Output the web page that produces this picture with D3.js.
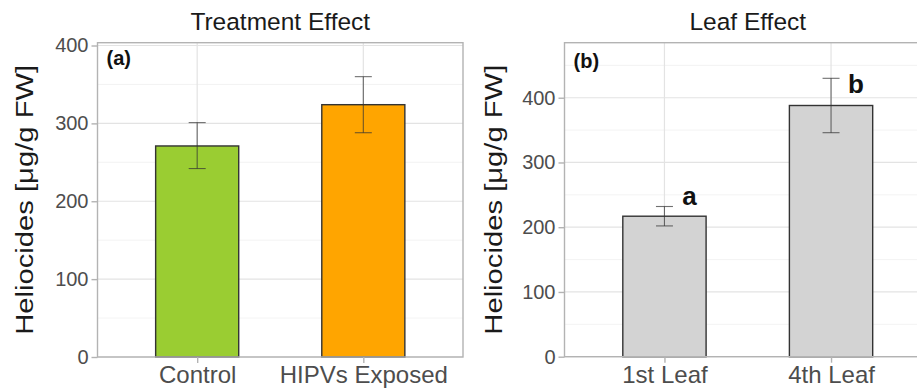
<!DOCTYPE html>
<html>
<head>
<meta charset="utf-8">
<script src="https://cdn.jsdelivr.net/npm/d3@7"></script>
<style>
  body { margin: 0; background: #fff; }
  svg { display: block; font-family: "Liberation Sans", Arial, sans-serif; }
</style>
</head>
<body>
<svg id="chart" width="917" height="389"></svg>
<script>
// panel (a) data
const treatCats = ["Control", "HIPVs Exposed"];
const treatMean = [271, 324];
const treatLow = [242, 288];
const treatHigh = [301, 360];
const treatColors = ["#9acd32", "#ffa500"];

// panel (b) data
const leafCats = ["1st Leaf", "4th Leaf"];
const leafMean = [217, 388];
const leafLow = [202, 346];
const leafHigh = [232, 430];
const leafLetters = ["a", "b"];
const leafLetterY = [248, 421];

const ticksA = [0, 100, 200, 300, 400];
const ticksB = [0, 100, 200, 300, 400];

const svg = d3.select("#chart");

function drawPanel(opt) {
  const g = svg.append("g");
  const { left, right, top, bottom } = opt;

  const x = d3.scalePoint()
    .domain(opt.cats)
    .range([left, right])
    .padding(0.6);
  const step = x.step();
  const barW = step * 0.5;

  const y = d3.scaleLinear()
    .domain(opt.yDomain)
    .range([bottom, top]);

  // minor grid
  const minor = d3.range(50, opt.yDomain[1], 100);
  g.selectAll(".minor").data(minor).enter().append("line")
    .attr("x1", left).attr("x2", right)
    .attr("y1", d => y(d)).attr("y2", d => y(d))
    .attr("stroke", "#f0f0f0").attr("stroke-width", 0.8);

  // major grid
  g.selectAll(".major").data(opt.ticks).enter().append("line")
    .attr("x1", left).attr("x2", right)
    .attr("y1", d => y(d)).attr("y2", d => y(d))
    .attr("stroke", "#e3e3e3").attr("stroke-width", 1.2);
  g.selectAll(".vgrid").data(opt.cats).enter().append("line")
    .attr("x1", d => x(d)).attr("x2", d => x(d))
    .attr("y1", top).attr("y2", bottom)
    .attr("stroke", "#e3e3e3").attr("stroke-width", 1.2);

  // bars
  g.selectAll(".bar").data(opt.cats).enter().append("rect")
    .attr("x", d => x(d) - barW / 2)
    .attr("y", (d, i) => y(opt.mean[i]))
    .attr("width", barW)
    .attr("height", (d, i) => y(0) - y(opt.mean[i]))
    .attr("fill", (d, i) => opt.colors[i])
    .attr("stroke", "#333")
    .attr("stroke-width", 1.4);

  // error bars
  const eb = g.selectAll(".err").data(opt.cats).enter().append("g")
    .attr("stroke", "#333").attr("stroke-opacity", 0.7).attr("stroke-width", 1.1);
  eb.append("line")
    .attr("x1", d => x(d)).attr("x2", d => x(d))
    .attr("y1", (d, i) => y(opt.low[i])).attr("y2", (d, i) => y(opt.high[i]));
  eb.append("line")
    .attr("x1", d => x(d) - 8.5).attr("x2", d => x(d) + 8.5)
    .attr("y1", (d, i) => y(opt.low[i])).attr("y2", (d, i) => y(opt.low[i]));
  eb.append("line")
    .attr("x1", d => x(d) - 8.5).attr("x2", d => x(d) + 8.5)
    .attr("y1", (d, i) => y(opt.high[i])).attr("y2", (d, i) => y(opt.high[i]));

  // letters
  if (opt.letters) {
    g.selectAll(".letter").data(opt.cats).enter().append("text")
      .attr("x", d => x(d) + step * 0.15)
      .attr("y", (d, i) => y(opt.letterY[i]))
      .attr("dy", "0.35em")
      .attr("text-anchor", "middle")
      .attr("font-weight", "bold")
      .attr("font-size", 26)
      .attr("fill", "#111")
      .text((d, i) => opt.letters[i]);
  }

  // border
  g.append("rect")
    .attr("x", left).attr("y", top)
    .attr("width", right - left).attr("height", bottom - top)
    .attr("fill", "none").attr("stroke", "#b3b3b3").attr("stroke-width", 1.4);

  // y axis
  const ya = g.append("g")
    .attr("transform", `translate(${left},0)`)
    .call(d3.axisLeft(y).tickValues(opt.ticks).tickSize(6).tickPadding(3));
  ya.select(".domain").remove();
  ya.selectAll("line").attr("stroke", "#b3b3b3").attr("stroke-width", 1.4);
  ya.selectAll("text").attr("font-size", 20).attr("fill", "#4d4d4d")
    .attr("font-family", "Liberation Sans, Arial, sans-serif");

  // x axis
  const xa = g.append("g")
    .attr("transform", `translate(0,${bottom})`)
    .call(d3.axisBottom(x).tickSize(6).tickPadding(3));
  xa.select(".domain").remove();
  xa.selectAll("line").attr("stroke", "#b3b3b3").attr("stroke-width", 1.4);
  xa.selectAll("text").attr("font-size", 24).attr("fill", "#4d4d4d")
    .attr("font-family", "Liberation Sans, Arial, sans-serif");

  // title
  g.append("text")
    .attr("x", (left + right) / 2).attr("y", 30)
    .attr("text-anchor", "middle")
    .attr("font-size", 24.5).attr("fill", "#1a1a1a")
    .text(opt.title);

  // y title
  g.append("text")
    .attr("transform", `translate(${opt.yTitleX},${(top + bottom) / 2}) rotate(-90)`)
    .attr("text-anchor", "middle")
    .attr("font-size", 23).attr("fill", "#1a1a1a")
    .attr("textLength", 270).attr("lengthAdjust", "spacingAndGlyphs")
    .text("Heliocides [μg/g FW]");

  // tag
  g.append("text")
    .attr("x", left + 9).attr("y", top + opt.tagDy)
    .attr("font-size", 20).attr("font-weight", "bold").attr("fill", "#111")
    .text(opt.tag);
}

drawPanel({
  left: 97.5, right: 463, top: 42.7, bottom: 357,
  cats: treatCats, mean: treatMean, low: treatLow, high: treatHigh,
  colors: treatColors, yDomain: [0, 403.6], ticks: ticksA,
  title: "Treatment Effect", tag: "(a)", tagDy: 22, yTitleX: 33
});

drawPanel({
  left: 564.5, right: 931, top: 42.7, bottom: 356.7,
  cats: leafCats, mean: leafMean, low: leafLow, high: leafHigh,
  colors: ["#d3d3d3", "#d3d3d3"], yDomain: [0, 485], ticks: ticksB,
  letters: leafLetters, letterY: leafLetterY,
  title: "Leaf Effect", tag: "(b)", tagDy: 25, yTitleX: 501.5
});
</script>
</body>
</html>
